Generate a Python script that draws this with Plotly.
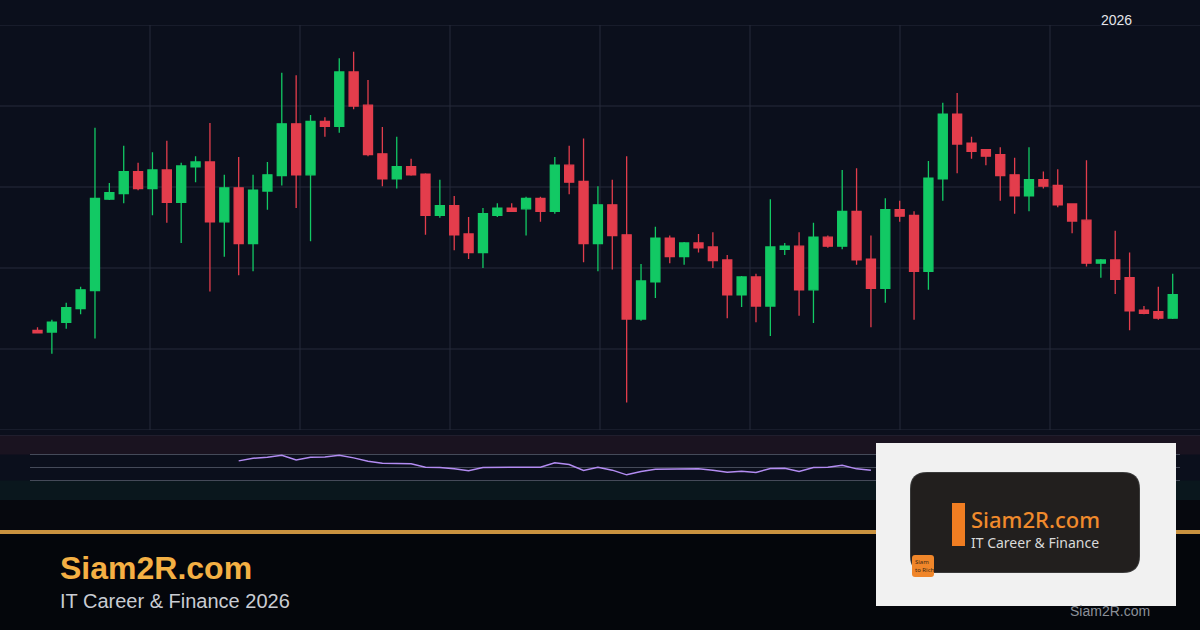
import plotly.graph_objects as go

W, H = 1200, 630

# ---------------- data ----------------
idx = list(range(80))

open_ = [112.3, 112.1, 113.3, 115.0, 117.2, 128.5, 129.2, 131.9, 129.8, 132.1,
         128.1, 132.5, 133.1, 125.7, 129.9, 123.0, 129.5, 131.4, 137.8, 131.5,
         138.1, 137.5, 144.2, 140.1, 134.1, 131.0, 132.5, 131.6, 126.5, 127.7,
         124.2, 121.9, 126.5, 127.4, 127.3, 128.6, 127.0, 132.7, 130.7, 123.0,
         127.8, 124.1, 113.7, 118.3, 123.7, 121.4, 123.1, 122.6, 121.0, 116.7,
         118.9, 115.3, 122.3, 122.7, 117.3, 123.8, 122.7, 127.0, 121.1, 117.5,
         127.2, 126.5, 119.6, 131.0, 139.0, 135.4, 134.6, 134.0, 131.5, 128.9,
         130.9, 130.2, 127.9, 125.9, 120.6, 121.0, 118.8, 114.8, 114.6, 113.8]

close = [112.0, 113.3, 115.1, 117.3, 128.6, 129.3, 131.9, 129.8, 132.1, 128.1,
         132.6, 133.1, 125.7, 129.9, 123.0, 129.6, 131.5, 137.8, 131.5, 138.1,
         137.5, 144.2, 140.0, 134.0, 131.0, 132.5, 131.5, 126.5, 127.7, 124.1,
         121.9, 126.7, 127.4, 127.0, 128.6, 127.0, 132.7, 130.6, 123.0, 127.8,
         124.0, 113.7, 118.4, 123.7, 121.4, 123.1, 122.5, 120.9, 116.7, 118.9,
         115.3, 122.6, 122.7, 117.3, 123.8, 122.7, 127.0, 121.0, 117.5, 127.2,
         126.4, 119.6, 131.1, 139.0, 135.3, 134.4, 133.8, 131.4, 128.9, 130.9,
         130.1, 127.8, 125.8, 120.6, 121.0, 118.6, 114.7, 114.4, 113.8, 116.7]

high = [112.7, 113.6, 115.7, 117.7, 137.3, 130.5, 135.1, 133.0, 134.3, 135.7,
        133.0, 133.8, 137.9, 131.5, 133.7, 131.5, 133.1, 144.1, 143.8, 138.9,
        138.6, 145.9, 146.7, 143.2, 137.4, 136.2, 133.5, 131.7, 130.9, 128.9,
        126.3, 127.4, 128.0, 128.0, 128.8, 128.8, 133.7, 135.1, 136.0, 130.1,
        130.9, 133.8, 120.5, 125.1, 124.0, 123.2, 124.2, 124.4, 121.6, 119.0,
        119.3, 128.5, 123.1, 124.4, 125.6, 124.0, 132.1, 132.3, 124.0, 128.6,
        128.3, 127.0, 133.2, 140.4, 141.6, 136.2, 134.7, 134.9, 133.6, 134.9,
        131.9, 132.2, 128.0, 133.3, 121.1, 124.6, 121.9, 115.3, 117.7, 119.3]

low = [111.9, 109.4, 112.5, 114.3, 111.3, 128.4, 128.0, 129.6, 126.5, 125.6,
       123.1, 130.6, 117.1, 121.4, 119.1, 119.6, 127.2, 130.2, 127.4, 123.3,
       136.2, 136.7, 139.6, 133.8, 130.1, 129.8, 131.4, 124.1, 126.2, 122.2,
       121.1, 120.0, 126.3, 126.9, 124.0, 125.7, 126.7, 129.1, 120.7, 119.6,
       119.8, 103.4, 113.5, 116.3, 120.6, 120.4, 121.9, 120.0, 113.8, 115.2,
       113.3, 111.6, 121.6, 114.1, 113.2, 122.5, 122.3, 120.4, 112.7, 115.7,
       125.7, 113.6, 117.3, 128.3, 131.7, 133.5, 132.7, 128.3, 126.7, 127.0,
       129.8, 127.5, 124.3, 120.2, 118.8, 116.8, 112.3, 114.3, 113.6, 113.7]

rsi_x = list(range(14, 59))
rsi = [60.2, 64.3, 65.8, 68.9, 61.7, 65.8, 66.3, 68.9, 64.8, 59.7,
       56.6, 56.1, 55.6, 50.5, 50.0, 47.9, 44.9, 50.0, 50.5, 50.5,
       50.5, 50.5, 57.2, 54.6, 45.4, 50.5, 45.9, 38.7, 43.8, 47.4,
       47.9, 47.9, 47.9, 45.9, 42.8, 44.4, 42.3, 48.5, 49.0, 43.8,
       50.0, 50.5, 53.6, 47.9, 45.9]

price_grid = [100, 110, 120, 130, 140, 150]
rsi_levels = [70, 50, 30]

title_text = "Siam2R.com"
subtitle_text = "IT Career & Finance 2026"
year_label = "2026"
logo_title = "Siam2R.com"
logo_sub = "IT Career & Finance"
badge_text = "Siam<br>to Rich"
footer_text = "Siam2R.com"

# ---------------- styling ----------------
GREEN = "#12c964"
RED = "#e33d4c"
GRID = "#262b3b"
BG = "#0b0f1c"


def X(p):
    return p / W


def Y(p):
    return 1 - p / H


def rrect(x0, y0, x1, y1, r):
    return (f"M {X(x0 + r)},{Y(y0)} L {X(x1 - r)},{Y(y0)} "
            f"Q {X(x1)},{Y(y0)} {X(x1)},{Y(y0 + r)} L {X(x1)},{Y(y1 - r)} "
            f"Q {X(x1)},{Y(y1)} {X(x1 - r)},{Y(y1)} L {X(x0 + r)},{Y(y1)} "
            f"Q {X(x0)},{Y(y1)} {X(x0)},{Y(y1 - r)} L {X(x0)},{Y(y0 + r)} "
            f"Q {X(x0)},{Y(y0)} {X(x0 + r)},{Y(y0)} Z")


fig = go.Figure()
fig.add_trace(go.Candlestick(
    x=idx, open=open_, high=high, low=low, close=close,
    increasing=dict(line=dict(color=GREEN, width=1.3), fillcolor=GREEN),
    decreasing=dict(line=dict(color=RED, width=1.3), fillcolor=RED),
    whiskerwidth=0, hoverinfo="skip", xaxis="x", yaxis="y"))

fig.add_trace(go.Scatter(
    x=rsi_x, y=rsi, mode="lines", xaxis="x2", yaxis="y2",
    line=dict(color="#b38cf2", width=1.5), hoverinfo="skip"))

shapes = []
# background zones
shapes.append(dict(type="rect", xref="paper", yref="paper", x0=0, x1=1,
                   y0=Y(630), y1=Y(500), fillcolor="#06080e", line_width=0, layer="below"))
shapes.append(dict(type="rect", xref="paper", yref="paper", x0=0, x1=1,
                   y0=Y(630), y1=Y(534), fillcolor="#04060b", line_width=0, layer="below"))
# RSI zones
shapes.append(dict(type="rect", xref="paper", yref="y2", x0=0, x1=1, y0=70, y1=100,
                   fillcolor="#1a1320", line_width=0, layer="below"))
shapes.append(dict(type="rect", xref="paper", yref="y2", x0=0, x1=1, y0=0, y1=30,
                   fillcolor="#0a171d", line_width=0, layer="below"))
shapes.append(dict(type="line", xref="paper", yref="y2", x0=0, x1=1, y0=100, y1=100,
                   line=dict(color=GRID, width=1), layer="below"))
for lv in rsi_levels:
    shapes.append(dict(type="line", xref="paper", yref="y2", x0=X(30), x1=X(1180),
                       y0=lv, y1=lv, line=dict(color="#454a59", width=1), layer="below"))
# price grid
for g in price_grid:
    shapes.append(dict(type="line", xref="paper", yref="y", x0=0, x1=1, y0=g, y1=g,
                       line=dict(color=GRID, width=1), layer="below"))
for k in range(1, 8):
    shapes.append(dict(type="line", xref="paper", yref="y", x0=k / 8, x1=k / 8,
                       y0=price_grid[0], y1=price_grid[-1],
                       line=dict(color=GRID, width=1), layer="below"))
# orange divider
shapes.append(dict(type="rect", xref="paper", yref="paper", x0=0, x1=1,
                   y0=Y(534), y1=Y(530), fillcolor="#c9923f", line_width=0, layer="above"))
# logo card
shapes.append(dict(type="rect", xref="paper", yref="paper", x0=X(876), x1=X(1176),
                   y0=Y(606), y1=Y(443), fillcolor="#f1f1f1", line_width=0, layer="above"))
shapes.append(dict(type="path", xref="paper", yref="paper",
                   path=rrect(910, 472, 1140, 573, 17), fillcolor="#3a3a3a",
                   line_width=0, layer="above"))
shapes.append(dict(type="path", xref="paper", yref="paper",
                   path=rrect(911, 473, 1139, 572, 16), fillcolor="#221f1e",
                   line_width=0, layer="above"))
shapes.append(dict(type="rect", xref="paper", yref="paper", x0=X(952), x1=X(965),
                   y0=Y(546), y1=Y(503), fillcolor="#f07d22", line_width=0, layer="above"))
shapes.append(dict(type="path", xref="paper", yref="paper",
                   path=rrect(912, 555, 934, 577, 3), fillcolor="#f0862a",
                   line_width=0, layer="above"))

annotations = [
    dict(text=year_label, x=X(1116), y=Y(20), xref="paper", yref="paper",
         showarrow=False, xanchor="center", yanchor="middle",
         font=dict(family="Liberation Sans, Arial", size=14, color="#e4e6ea")),
    dict(text=f"<b>{title_text}</b>", x=X(58), y=Y(568), xref="paper", yref="paper",
         showarrow=False, xanchor="left", yanchor="middle",
         font=dict(family="Liberation Sans, Arial", size=32, color="#f4b044")),
    dict(text=subtitle_text, x=X(58), y=Y(601), xref="paper", yref="paper",
         showarrow=False, xanchor="left", yanchor="middle",
         font=dict(family="Liberation Sans, Arial", size=20, color="#c9ccd3")),
    dict(text=footer_text, x=X(1110), y=Y(611), xref="paper", yref="paper",
         showarrow=False, xanchor="center", yanchor="middle",
         font=dict(family="Liberation Sans, Arial", size=14, color="#8b9099")),
    dict(text=logo_title, x=X(969), y=Y(519), xref="paper", yref="paper",
         showarrow=False, xanchor="left", yanchor="middle",
         font=dict(family="Noto Sans", size=22, color="#f08a2c", weight=500)),
    dict(text=logo_sub, x=X(969), y=Y(542), xref="paper", yref="paper",
         showarrow=False, xanchor="left", yanchor="middle",
         font=dict(family="Noto Sans", size=14, color="#d9d9d9")),
    dict(text=badge_text, x=X(913), y=Y(566), xref="paper", yref="paper",
         showarrow=False, xanchor="left", yanchor="middle", align="left",
         font=dict(family="Noto Sans", size=6, color="#3b2612")),
]

x_range = [-2.61, 80.9]
fig.update_layout(
    width=W, height=H,
    margin=dict(l=0, r=0, t=0, b=0),
    paper_bgcolor=BG, plot_bgcolor="rgba(0,0,0,0)",
    showlegend=False, boxgap=0.1,
    xaxis=dict(domain=[0, 1], range=x_range, showgrid=False, showticklabels=False,
               zeroline=False, showline=False, rangeslider=dict(visible=False),
               anchor="y", fixedrange=True),
    yaxis=dict(domain=[Y(430), Y(25)], range=[price_grid[0], price_grid[-1]],
               showgrid=False, showticklabels=False, zeroline=False, anchor="x",
               fixedrange=True),
    xaxis2=dict(domain=[0, 1], range=x_range, matches="x", showgrid=False,
                showticklabels=False, zeroline=False, anchor="y2", fixedrange=True),
    yaxis2=dict(domain=[Y(500), Y(435)], range=[0, 100], showgrid=False,
                showticklabels=False, zeroline=False, anchor="x2", fixedrange=True),
    shapes=shapes, annotations=annotations,
)

fig.write_html(
    "out.html",
    config=dict(displayModeBar=False),
    post_script="document.body.style.margin='0';document.body.style.overflow='hidden';"
                "document.body.style.background='#04060b';",
)
